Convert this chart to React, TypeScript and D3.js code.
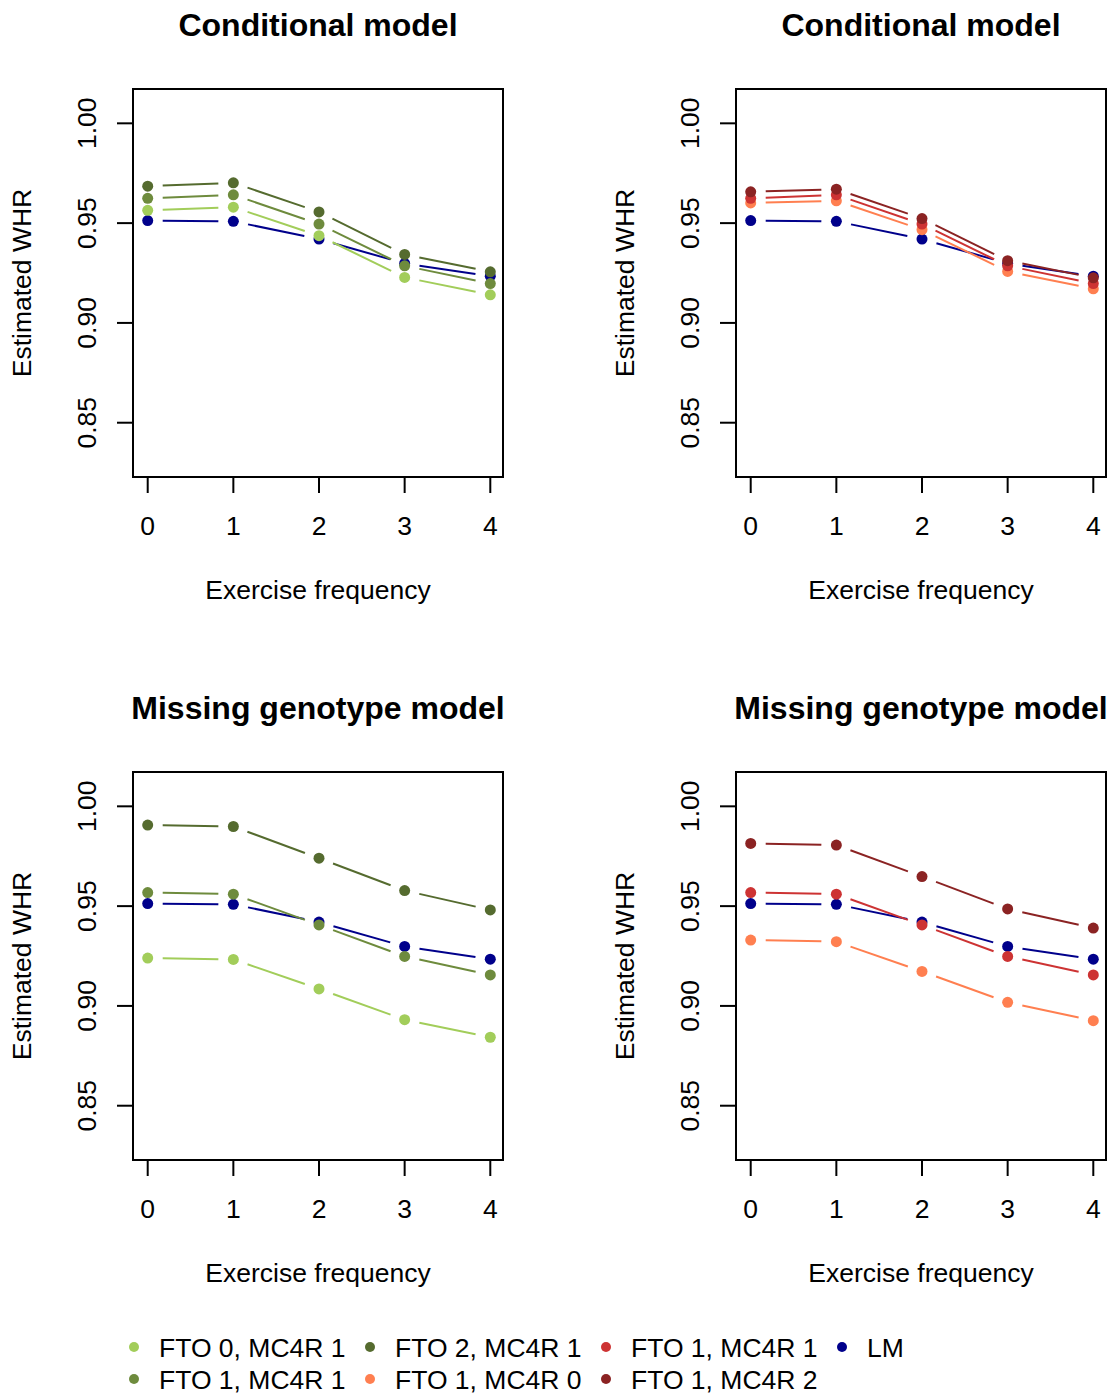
import React from 'react';
import * as d3 from 'd3';

const exercise = [0, 1, 2, 3, 4];
const yTicks = [0.85, 0.9, 0.95, 1.0];

const lm = [0.9513, 0.9509, 0.942, 0.9298, 0.9234];

const condFto0 = [0.9564, 0.958, 0.9437, 0.9228, 0.9141];
const condFto1Mc4r1 = [0.9624, 0.9642, 0.9495, 0.9286, 0.9197];
const condFto2 = [0.9685, 0.9702, 0.9556, 0.9343, 0.9256];
const condMc4r0 = [0.9601, 0.9612, 0.9467, 0.9258, 0.9171];
const condMc4r2 = [0.9657, 0.967, 0.9523, 0.9312, 0.9226];

const missFto0 = [0.924, 0.9233, 0.9085, 0.8931, 0.8843];
const missFto1Mc4r1 = [0.9568, 0.956, 0.9406, 0.9248, 0.9155];
const missFto2 = [0.9906, 0.9899, 0.974, 0.9578, 0.9481];
const missMc4r0 = [0.933, 0.9322, 0.9173, 0.9018, 0.8926];
const missMc4r2 = [0.9814, 0.9806, 0.9648, 0.9486, 0.939];

const colors = {
  lm: '#00008B',
  fto0: '#A2CD5A',
  fto1: '#6E8B3D',
  fto2: '#556B2F',
  mc4r0: '#FF7F50',
  mc4r1: '#CD3333',
  mc4r2: '#8B2323',
};

const legendLabels = [
  'FTO 0, MC4R 1', 'FTO 1, MC4R 1', 'FTO 2, MC4R 1', 'FTO 1, MC4R 0',
  'FTO 1, MC4R 1', 'FTO 1, MC4R 2', 'LM',
];
const legendColors = [
  colors.fto0, colors.fto1, colors.fto2, colors.mc4r0, colors.mc4r1, colors.mc4r2, colors.lm,
];

const panels = [
  {
    title: 'Conditional model', left: 133, top: 89,
    series: [[lm, colors.lm], [condFto0, colors.fto0], [condFto1Mc4r1, colors.fto1], [condFto2, colors.fto2]],
  },
  {
    title: 'Conditional model', left: 736, top: 89,
    series: [[lm, colors.lm], [condMc4r0, colors.mc4r0], [condFto1Mc4r1, colors.mc4r1], [condMc4r2, colors.mc4r2]],
  },
  {
    title: 'Missing genotype model', left: 133, top: 772,
    series: [[lm, colors.lm], [missFto0, colors.fto0], [missFto1Mc4r1, colors.fto1], [missFto2, colors.fto2]],
  },
  {
    title: 'Missing genotype model', left: 736, top: 772,
    series: [[lm, colors.lm], [missMc4r0, colors.mc4r0], [missFto1Mc4r1, colors.mc4r1], [missMc4r2, colors.mc4r2]],
  },
];

const W = 370;
const H = 388;
const FONT = '"Liberation Sans", Arial, sans-serif';
const FS = 26.5;
const GAP = 15;

const Panel = ({ title, left, top, series }) => {
  const x = d3.scaleLinear().domain([-0.16, 4.16]).range([left + 1, left + W + 1]);
  const y = d3.scaleLinear().domain([0.8228, 1.0172]).range([top + H, top]);
  const cx = left + W / 2;
  const cy = top + H / 2;

  // type="b": segments stop short of each point
  const segs = (vals) => d3.pairs(exercise.map((e, i) => [x(e), y(vals[i])])).map(([a, b]) => {
    const dx = b[0] - a[0];
    const dy = b[1] - a[1];
    const len = Math.hypot(dx, dy);
    if (len <= 2 * GAP) return null;
    const ux = dx / len;
    const uy = dy / len;
    return [a[0] + ux * GAP, a[1] + uy * GAP, b[0] - ux * GAP, b[1] - uy * GAP];
  }).filter(Boolean);

  return (
    <g>
      <text x={cx} y={top - 53} textAnchor="middle" fontFamily={FONT} fontWeight="bold" fontSize={32}>{title}</text>
      <rect x={left} y={top} width={W} height={H} fill="none" stroke="#000" strokeWidth={2} />
      {exercise.map(e => (
        <g key={e}>
          <line x1={x(e)} x2={x(e)} y1={top + H} y2={top + H + 16} stroke="#000" strokeWidth={2} />
          <text x={x(e)} y={top + H + 58} textAnchor="middle" fontFamily={FONT} fontSize={FS}>{e}</text>
        </g>
      ))}
      {yTicks.map(t => (
        <g key={t}>
          <line x1={left} x2={left - 16} y1={y(t)} y2={y(t)} stroke="#000" strokeWidth={2} />
          <text transform={`translate(${left - 37},${y(t)}) rotate(-90)`} textAnchor="middle" fontFamily={FONT} fontSize={FS}>{t.toFixed(2)}</text>
        </g>
      ))}
      <text x={cx} y={top + H + 122} textAnchor="middle" fontFamily={FONT} fontSize={FS}>Exercise frequency</text>
      <text transform={`translate(${left - 102},${cy}) rotate(-90)`} textAnchor="middle" fontFamily={FONT} fontSize={FS}>Estimated WHR</text>
      {series.map(([vals, col], si) => (
        <g key={si}>
          {segs(vals).map((s, i) => (
            <line key={i} x1={s[0]} y1={s[1]} x2={s[2]} y2={s[3]} stroke={col} strokeWidth={2} />
          ))}
          {exercise.map((e, i) => (
            <circle key={i} cx={x(e)} cy={y(vals[i])} r={5.5} fill={col} />
          ))}
        </g>
      ))}
    </g>
  );
};

const App = () => (
  <svg width={1112} height={1394} style={{ position: 'absolute', left: 0, top: 0, background: '#fff' }}>
    <rect width={1112} height={1394} fill="#fff" />
    {panels.map((p, i) => <Panel key={i} {...p} />)}
    {legendLabels.map((lab, i) => {
      const col = Math.floor(i / 2);
      const row = i % 2;
      const lx = 134 + col * 236;
      const ly = 1347 + row * 32;
      return (
        <g key={i}>
          <circle cx={lx} cy={ly} r={5} fill={legendColors[i]} />
          <text x={lx + 25} y={ly + 9.5} fontFamily={FONT} fontSize={FS}>{lab}</text>
        </g>
      );
    })}
  </svg>
);

export default App;
